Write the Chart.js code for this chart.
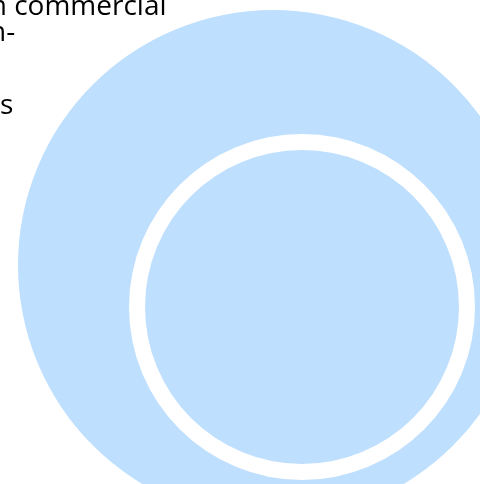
<!DOCTYPE html>
<html>
<head>
<meta charset="utf-8">
<script src="https://cdn.jsdelivr.net/npm/chart.js@4"></script>
<style>
  html, body { margin: 0; padding: 0; background: #fff; overflow: hidden; }
  .wrap { position: relative; width: 480px; height: 484px; overflow: hidden; }
  #myChart { position: absolute; left: 0; top: 0; }
  .txt { position: absolute; font-family: "Open Sans", sans-serif; font-size: 28px; line-height: 28px; color: #000; white-space: nowrap; }
</style>
</head>
<body>
<div class="wrap">
  <canvas id="myChart" width="480" height="484"></canvas>
  <div class="txt" style="left:-19px; top:-10px">m commercial</div>
  <div class="txt" style="left:-11px; top:16px">n-</div>
  <div class="txt" style="left:0px; top:89px">s</div>
</div>
<script>
// circles: big disc, white ring, inner disc
let names = ['outer', 'ring', 'inner']
let xValues = [273, 302, 302]
let yValues = [265, 307, 307]
let rValues = [255, 173, 157]

let blue = 'rgb(191, 223, 254)'
let colors = [blue, '#ffffff', blue]

let datasets = names.map((n, i) => ({
    label: n,
    data: [{ x: xValues[i], y: yValues[i], r: rValues[i] }],
    backgroundColor: colors[i],
    borderColor: colors[i],
    borderWidth: 0,
    hoverRadius: 0,
    clip: false,
    order: 3 - i
}))

new Chart("myChart", {
    type: "bubble",
    data: { datasets: datasets },
    options: {
        responsive: false,
        animation: false,
        events: [],
        layout: { padding: 0, autoPadding: false }, // no auto padding, or the big bubbles squash the chart area
        plugins: { legend: { display: false }, tooltip: { enabled: false } },
        scales: {
            x: { type: 'linear', min: 0, max: 480, display: false },
            y: { type: 'linear', min: 0, max: 484, reverse: true, display: false }
        }
    }
});
</script>
</body>
</html>
